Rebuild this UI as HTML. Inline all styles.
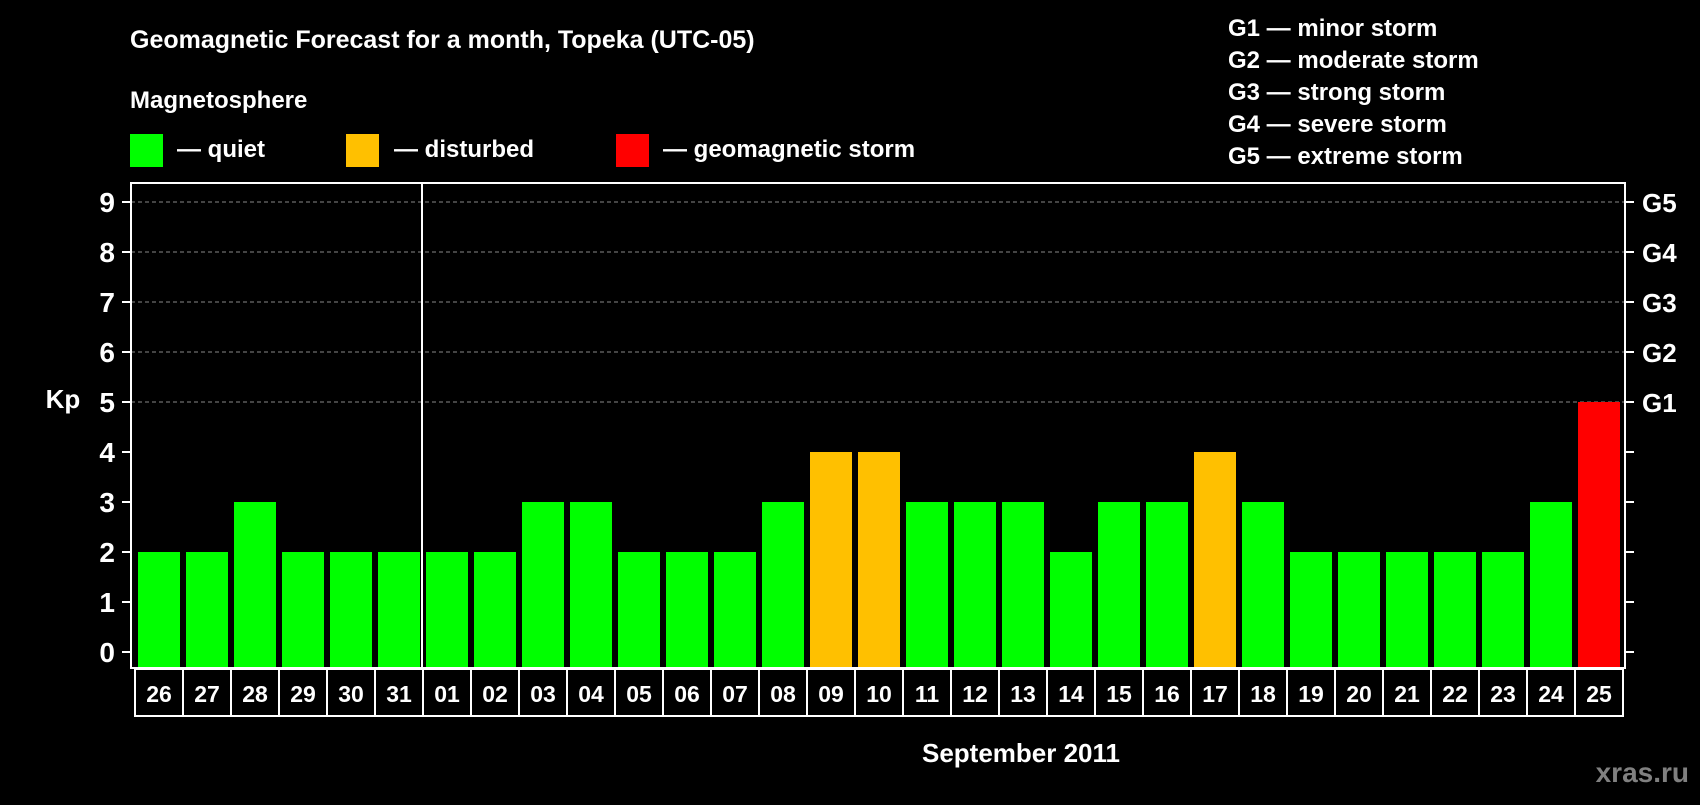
<!DOCTYPE html>
<html><head><meta charset="utf-8"><style>
body{margin:0;background:#000;width:1700px;height:800px;overflow:hidden}
svg text{font-family:"Liberation Sans",Arial,sans-serif;font-weight:bold;fill:#fff}
</style></head><body>
<svg id="chart" width="1700" height="800" xmlns="http://www.w3.org/2000/svg">
<text x="130" y="48" font-size="25">Geomagnetic Forecast for a month, Topeka (UTC-05)</text>
<text x="130" y="108" font-size="24">Magnetosphere</text>
<rect x="130" y="134" width="33" height="33" fill="#00ff00"/>
<text x="177" y="157" font-size="24">— quiet</text>
<rect x="346" y="134" width="33" height="33" fill="#ffc000"/>
<text x="394" y="157" font-size="24">— disturbed</text>
<rect x="616" y="134" width="33" height="33" fill="#ff0000"/>
<text x="663" y="157" font-size="24">— geomagnetic storm</text>
<g font-size="24">
<text x="1228" y="36">G1 — minor storm</text>
<text x="1228" y="68">G2 — moderate storm</text>
<text x="1228" y="100">G3 — strong storm</text>
<text x="1228" y="132">G4 — severe storm</text>
<text x="1228" y="164">G5 — extreme storm</text>
</g>
<text x="63" y="408" font-size="26" text-anchor="middle">Kp</text>
<text x="1021" y="762" font-size="26" text-anchor="middle">September 2011</text>
<text x="1689" y="782" font-size="28" text-anchor="end" style="fill:#808080">xras.ru</text>
<g id="plot"></g>
</svg>
<script>
const days=["26","27","28","29","30","31","01","02","03","04","05","06","07","08","09","10","11","12","13","14","15","16","17","18","19","20","21","22","23","24","25"];
const kp=[2,2,3,2,2,2,2,2,3,3,2,2,2,3,4,4,3,3,3,2,3,3,4,3,2,2,2,2,2,3,5];
const yTicks=[0,1,2,3,4,5,6,7,8,9];
const gLabels=["G1","G2","G3","G4","G5"];
const gLevels=[5,6,7,8,9];
const NS="http://www.w3.org/2000/svg";
const g=document.getElementById('plot');
const L=131,R=1625,T=183,B=668;
const y=v=>652-v*50;
const x=i=>138+i*48;
function mk(t,a){const e=document.createElementNS(NS,t);for(const k in a)e.setAttribute(k,a[k]);g.appendChild(e);return e;}
gLevels.forEach(v=>{const e=mk('line',{x1:L,x2:R,y1:y(v),y2:y(v),stroke:'#888','stroke-dasharray':'4,3','stroke-width':1});

});
kp.forEach((v,i)=>{const c=v>=5?'#ff0000':v>=4?'#ffc000':'#00ff00';
const b=mk('rect',{x:x(i),y:y(v),width:42,height:668-y(v),fill:c});


const bx=mk('rect',{x:x(i)-3,y:669,width:48,height:47,fill:'none',stroke:'#fff','stroke-width':2});


const t=mk('text',{x:x(i)+21,y:702,'font-size':23,'text-anchor':'middle'});t.textContent=days[i];

});
const fr=mk('rect',{x:L,y:T,width:R-L,height:B-T,fill:'none',stroke:'#fff','stroke-width':2});


const dv=mk('line',{x1:422,x2:422,y1:T,y2:B,stroke:'#fff','stroke-width':2});


yTicks.forEach(v=>{mk('line',{x1:L-9,x2:L,y1:y(v),y2:y(v),stroke:'#fff','stroke-width':2});
const t=mk('text',{x:L-16,y:y(v)+10,'font-size':28,'text-anchor':'end'});t.textContent=v;


mk('line',{x1:R,x2:R+9,y1:y(v),y2:y(v),stroke:'#fff','stroke-width':2});});
gLabels.forEach((s,i)=>{const t=mk('text',{x:R+17,y:y(gLevels[i])+10,'font-size':26});t.textContent=s;

});
</script>
</body></html>
